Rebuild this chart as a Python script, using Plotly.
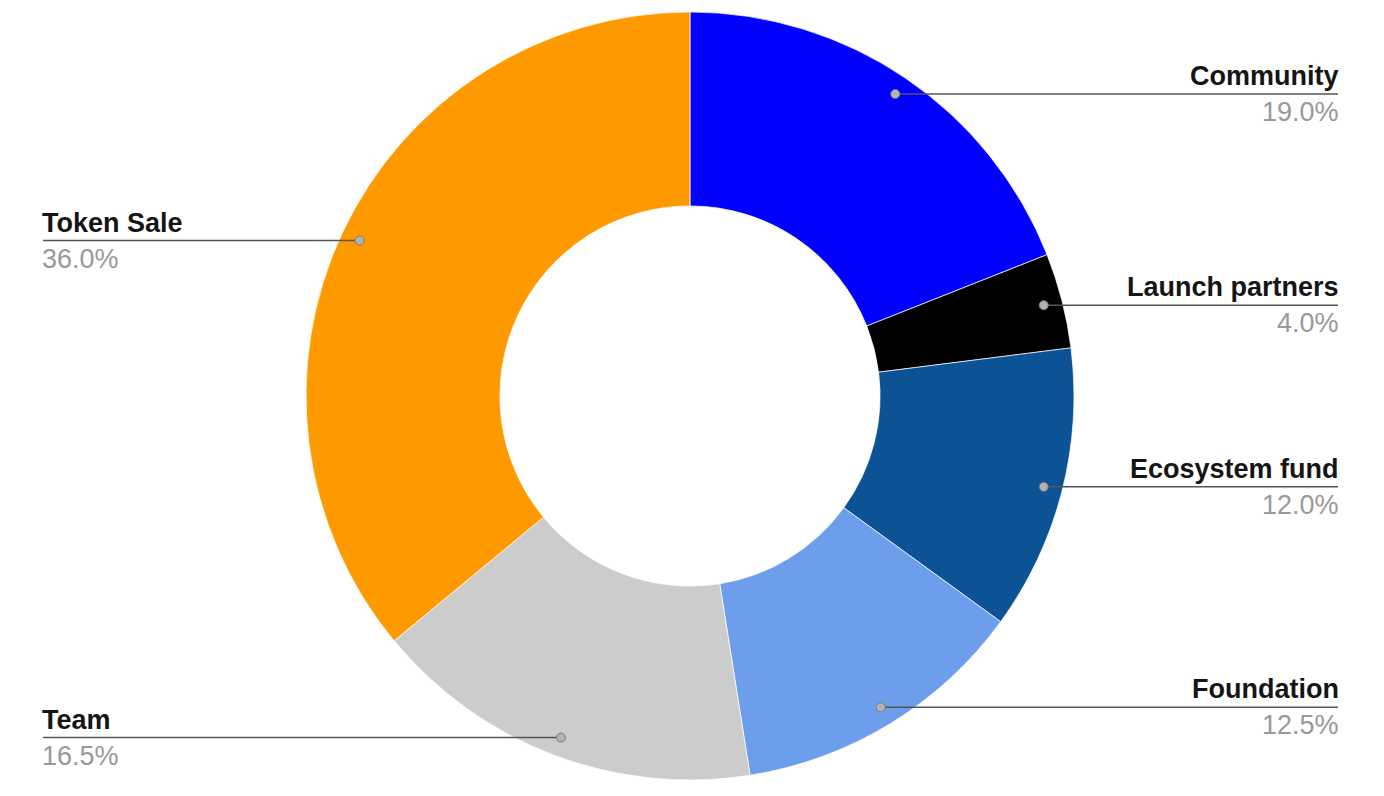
import math
import plotly.graph_objects as go

labels = ["Community", "Launch partners", "Ecosystem fund", "Foundation", "Team", "Token Sale"]
values = [19.0, 4.0, 12.0, 12.5, 16.5, 36.0]
colors = ["#0000FF", "#000000", "#0B5394", "#6D9EEB", "#CCCCCC", "#FF9900"]

W, H = 1384, 796
OFF = 8                             # page body margin that shifts the plot
CX, CY, R = 690 - OFF, 396 - OFF, 384
DOT_FRAC = 0.951
RIGHT_X, LEFT_X = 1338 - OFF, 43 - OFF

fig = go.Figure(go.Pie(
    labels=labels, values=values, sort=False, direction="clockwise", rotation=0,
    hole=0.495, textinfo="none", hoverinfo="label+percent",
    marker=dict(colors=colors, line=dict(color="#ffffff", width=0.7)),
    domain=dict(x=[(CX - R) / W, (CX + R) / W], y=[(H - CY - R) / H, (H - CY + R) / H]),
    showlegend=False,
))

shapes, annotations = [], []
total = sum(values)
cum = 0.0
FONT = "Liberation Sans, Arial, sans-serif"
for lab, v in zip(labels, values):
    mid = (cum + v / 2) / total * 2 * math.pi
    cum += v
    px = CX + DOT_FRAC * R * math.sin(mid)
    py = CY - DOT_FRAC * R * math.cos(mid)
    right = math.sin(mid) > 0
    edge = RIGHT_X if right else LEFT_X
    xs = 3 if right else -3
    yp = 1 - py / H
    shapes.append(dict(type="line", xref="paper", yref="paper",
                       x0=px / W, x1=edge / W, y0=yp, y1=yp,
                       line=dict(color="#555555", width=1.5)))
    rd = 4.5
    shapes.append(dict(type="circle", xref="paper", yref="paper",
                       x0=(px - rd) / W, x1=(px + rd) / W, y0=yp - rd / H, y1=yp + rd / H,
                       fillcolor="#b3b3b3", line=dict(color="#7a7a7a", width=1)))
    anchor = "right" if right else "left"
    annotations.append(dict(x=edge / W, y=yp, xref="paper", yref="paper", showarrow=False,
                            xanchor=anchor, yanchor="bottom", yshift=1, xshift=xs, align=anchor,
                            text=f"<b>{lab}</b>",
                            font=dict(family=FONT, size=27, color="#151515")))
    annotations.append(dict(x=edge / W, y=yp, xref="paper", yref="paper", showarrow=False,
                            xanchor=anchor, yanchor="top", yshift=-1, xshift=xs, align=anchor,
                            text=f"{v / total * 100:.1f}%",
                            font=dict(family=FONT, size=27, color="#999999")))

fig.update_layout(width=W, height=H, margin=dict(l=0, r=0, t=0, b=0),
                  paper_bgcolor="#ffffff", plot_bgcolor="#ffffff",
                  shapes=shapes, annotations=annotations)
fig.write_html("out.html")
